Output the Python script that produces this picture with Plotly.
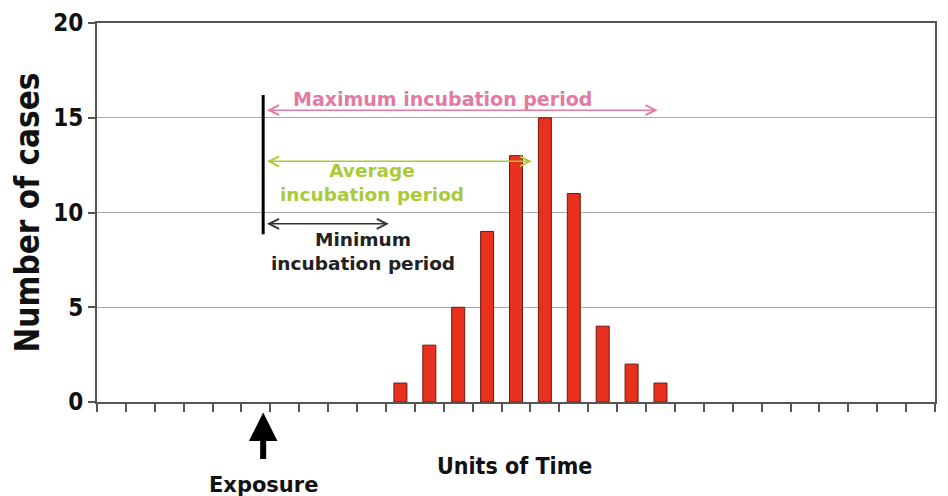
import plotly.graph_objects as go

# time units along the x axis (29 slots), cases per slot
time_units = list(range(29))
cases = [0, 0, 0, 0, 0, 0, 0, 0, 0, 0, 1, 3, 5, 9, 13, 15, 11, 4, 2, 1,
         0, 0, 0, 0, 0, 0, 0, 0, 0]
y_ticks = [0, 5, 10, 15, 20]

# incubation period markers, in time units
exposure_t = 5.25
min_end_t = 9.6
avg_end_t = 14.55
max_end_t = 18.9

narrow = 'Liberation Sans Narrow, Arial Narrow, DejaVu Sans Condensed, sans-serif'
verdana = 'DejaVu Sans, Verdana, sans-serif'
pink = '#e27aa3'
green = '#a9cb3a'

fig = go.Figure(go.Bar(
    x=time_units, y=cases, width=0.45,
    marker=dict(color='#e8301e',
                line=dict(color='#6e1a10', width=[1 if c else 0 for c in cases])),
    hoverinfo='y', showlegend=False
))

annotations = []

# exposure line
fig.add_shape(type='line', x0=exposure_t, x1=exposure_t, y0=8.85, y1=16.2,
              xref='x', yref='y', line=dict(color='black', width=3))


def span_arrow(y, x_end, color):
    return dict(x=x_end, y=y, ax=exposure_t + 0.08, ay=y, xref='x', yref='y', axref='x', ayref='y',
                text='', showarrow=True, arrowhead=5, startarrowhead=5, arrowside='end+start',
                arrowsize=1.3, startarrowsize=1.3, arrowwidth=1.5, arrowcolor=color)


annotations.append(span_arrow(15.4, max_end_t, pink))
annotations.append(span_arrow(12.7, avg_end_t, green))
annotations.append(span_arrow(9.4, min_end_t, '#333333'))

annotations.append(dict(x=11.45, y=16.0, xref='x', yref='y', showarrow=False,
                        text='<b>Maximum incubation period</b>',
                        font=dict(family=verdana, size=19, color=pink)))
annotations.append(dict(x=9.0, y=11.6, xref='x', yref='y', showarrow=False,
                        text='<b>Average<br>incubation period</b>',
                        font=dict(family=verdana, size=18.5, color=green)))
annotations.append(dict(x=8.7, y=7.95, xref='x', yref='y', showarrow=False,
                        text='<b>Minimum<br>incubation period</b>',
                        font=dict(family=verdana, size=18.5, color='#222222')))

# exposure arrow below the axis
annotations.append(dict(x=exposure_t, y=-0.028, xref='x', yref='paper', ax=0, ay=48,
                        text='', showarrow=True, arrowhead=2, arrowsize=0.95,
                        arrowwidth=6, arrowcolor='black'))
annotations.append(dict(x=exposure_t, y=-0.218, xref='x', yref='paper', yanchor='middle',
                        showarrow=False, text='<b>Exposure</b>',
                        font=dict(family=verdana, size=21, color='#111111')))
annotations.append(dict(x=13.96, y=-0.169, xref='x', yref='paper', yanchor='middle',
                        showarrow=False, text='<b>Units of Time</b>',
                        font=dict(family=narrow, size=23, color='#111111')))

fig.update_xaxes(range=[-0.5, 28.5], tickvals=[t - 0.5 for t in time_units] + [28.5],
                 showticklabels=False, ticks='outside', ticklen=8, tickwidth=2, tickcolor='#555555',
                 showgrid=False, showline=True, mirror=True, linecolor='#555555', linewidth=2,
                 zeroline=False, automargin=False)
fig.update_yaxes(range=[0, 20], tickvals=y_ticks, ticks='outside', ticklen=7, tickwidth=2,
                 tickcolor='#555555', showline=True, mirror=True, linecolor='#555555', linewidth=2,
                 gridcolor='#a8a8a8', gridwidth=1.3, zeroline=False, automargin=False,
                 ticklabeloverflow='allow',
                 tickfont=dict(family=narrow, size=24, color='#111111', weight='bold'),
                 title=dict(text='<b>Number of cases</b>', standoff=8,
                            font=dict(family=narrow, size=33, color='#111111')))

# page body has an 8px margin, so the figure is a little smaller than the window
fig.update_layout(width=940, height=488, margin=dict(l=89, r=13, t=15, b=94),
                  paper_bgcolor='white', plot_bgcolor='white', bargap=0.55,
                  annotations=annotations)

fig.write_html("out.html")
